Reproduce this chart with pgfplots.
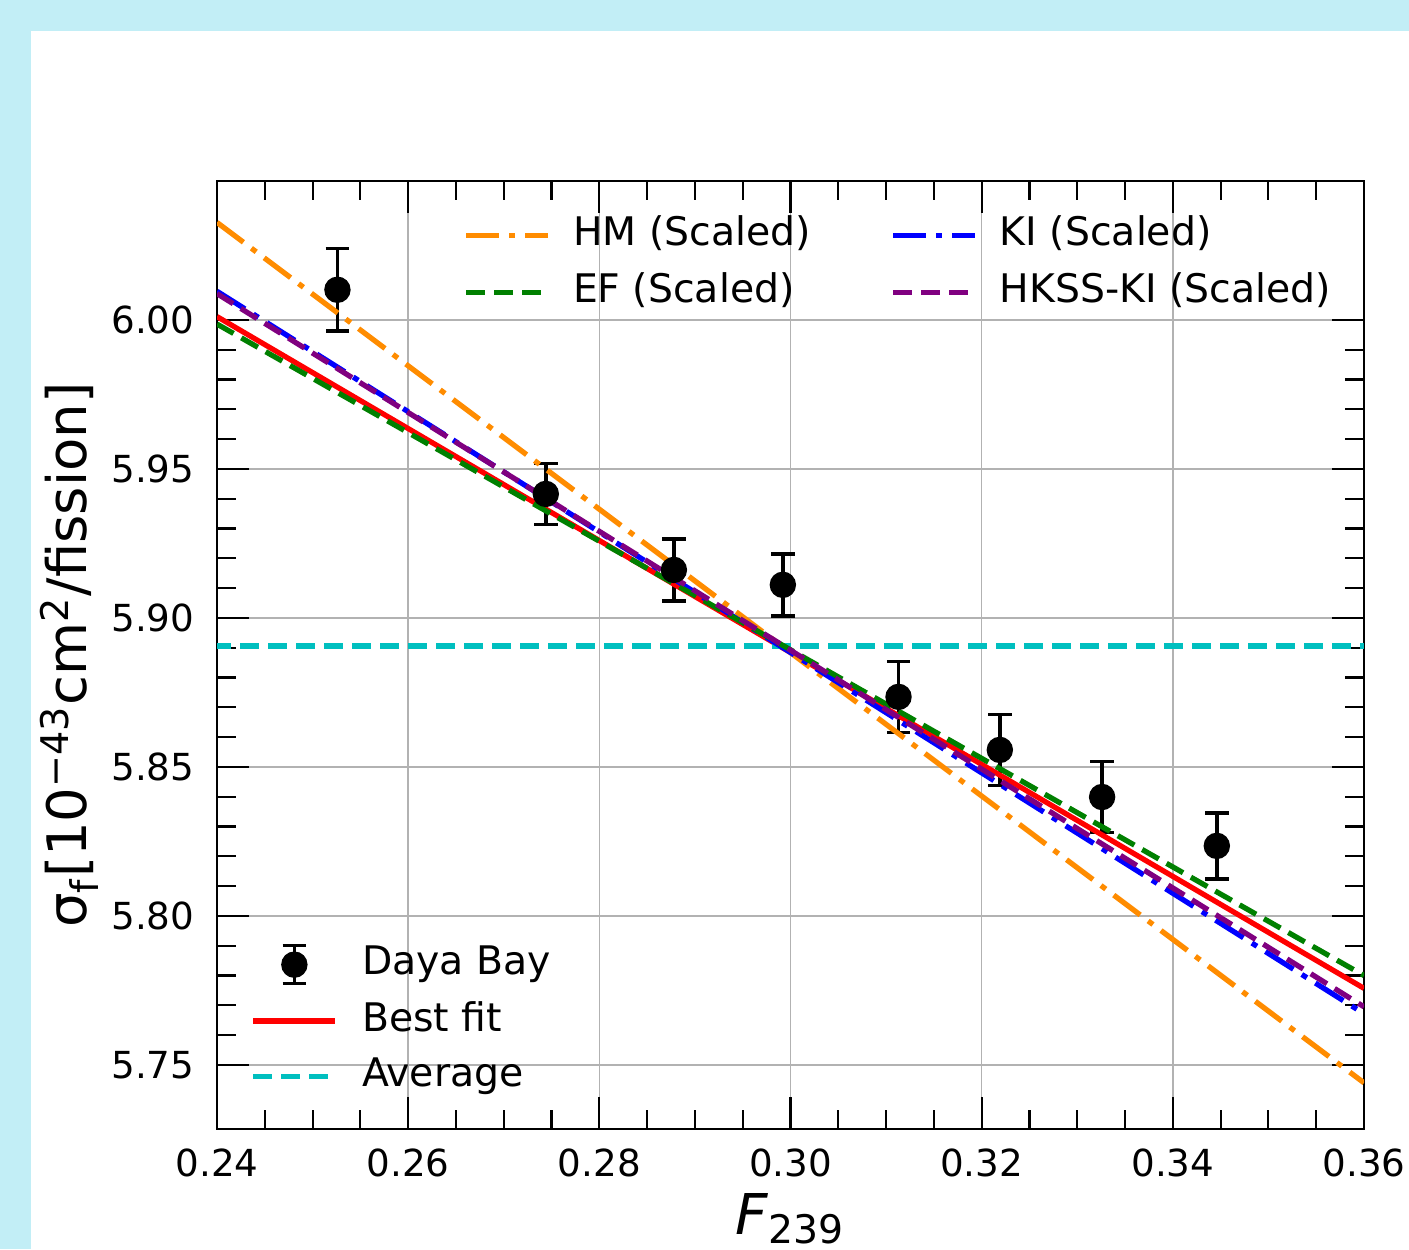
\documentclass[border=0pt]{standalone}
\usepackage{fontspec}
\setmainfont{DejaVu Sans}
\usepackage{pgfplots}
\pgfplotsset{compat=1.18}
\usepackage{pgfplotstable}

\definecolor{bgcyan}{HTML}{C2EEF6}
\definecolor{mplorange}{HTML}{FF8C00}
\definecolor{mplgreen}{HTML}{008000}
\definecolor{mplblue}{HTML}{0000FF}
\definecolor{mplpurple}{HTML}{800080}
\definecolor{mplred}{HTML}{FF0000}
\definecolor{mplcyan}{HTML}{00BFBF}

% Daya Bay points: F239, sigma_f, error
\pgfplotstableread{
x      y       err
0.2526 6.0101  0.0139
0.2744 5.9416  0.0102
0.2878 5.9161  0.0104
0.2992 5.9111  0.0104
0.3113 5.8735  0.0119
0.3219 5.8557  0.0119
0.3326 5.8399  0.0119
0.3446 5.8235  0.0111
}\dayabay

\tikzset{
  dashdotted mpl/.style={dash pattern=on 0.33cm off 0.1cm on 0.06cm off 0.1cm},
  dashed mpl/.style={dash pattern=on 0.19cm off 0.09cm},
}
\pgfplotsset{
  mypanel/.style={
    at={(2.17cm,1.20cm)}, anchor=south west,
    width=11.47cm, height=9.48cm, scale only axis,
  },
  my line legend/.style={
    legend image code/.code={\draw[##1] (0cm,0cm) -- (0.82cm,0cm);},
  },
}

\begin{document}
\begin{tikzpicture}
\fill[bgcyan] (0,0) rectangle (14.09cm,12.49cm);
\fill[white] (0.31cm,0) rectangle (14.09cm,12.18cm);
\useasboundingbox (0,0) rectangle (14.09cm,12.49cm);

\begin{axis}[
  mypanel,
  xmin=0.24, xmax=0.36, ymin=5.7285, ymax=6.0466,
  xtick={0.24,0.26,0.28,0.30,0.32,0.34,0.36},
  ytick={5.75,5.80,5.85,5.90,5.95,6.00},
  minor x tick num=3, minor y tick num=4,
  scaled ticks=false,
  tick align=inside,
  major tick length=0.32cm, minor tick length=0.19cm,
  every tick/.style={black, line width=0.6pt},
  axis line style={line width=0.8pt},
  grid=major,
  major grid style={color=black!30, line width=0.45pt},
  /pgf/number format/assume math mode=true,
  /pgf/number format/fixed, /pgf/number format/fixed zerofill,
  /pgf/number format/precision=2,
  tick label style={font=\fontsize{10.6}{12}\selectfont, inner sep=0pt},
  xticklabel style={yshift=-0.19cm},
  yticklabel style={xshift=-0.22cm},
  xlabel={\textit{F}\textsubscript{239}},
  xlabel style={font=\fontsize{16}{18}\selectfont, at={([yshift=-1.05cm]axis description cs:0.5,0)}, anchor=base, inner sep=0pt},
  ylabel={σ\textsubscript{f}[10\textsuperscript{−43}cm\textsuperscript{2}/fission]},
  ylabel style={font=\fontsize{15.5}{18}\selectfont, at={([xshift=-1.30cm]axis description cs:0,0.5)}, anchor=base, inner sep=0pt},
  my line legend,
  legend columns=2,
  legend cell align=left,
  legend style={draw=none, fill=none, inner sep=0pt, row sep=0.176cm,
    at={(0.2145,0.964)}, anchor=north west,
    font=\fontsize{11.2}{13}\selectfont,
    nodes={inner sep=0pt, text height=0.30cm, text depth=0.094cm},
    /tikz/every odd column/.append style={column sep=0.22cm},
    /tikz/every even column/.append style={column sep=0.80cm}},
]
\addplot[only marks, mark=*, mark size=0.125cm, black, forget plot,
  error bars/.cd, y dir=both, y explicit,
  error bar style={line width=1pt, black},
  error mark options={rotate=90, mark size=0.117cm, line width=1pt, black}]
  table[x=x, y=y, y error=err] {\dayabay};
\addplot[mplred, line width=1.5pt, forget plot] coordinates {(0.24,6.0011) (0.36,5.7757)};
\addplot[mplcyan, line width=1.5pt, dash pattern=on 0.19cm off 0.09cm, dash phase=0.05cm, forget plot] coordinates {(0.24,5.8906) (0.36,5.8906)};

\addplot[mplorange, line width=1.5pt, dashdotted mpl] coordinates {(0.24,6.0327) (0.36,5.7440)};
\addlegendentry{HM (Scaled)}
\addplot[mplblue, line width=1.5pt, dashdotted mpl] coordinates {(0.24,6.0096) (0.36,5.7672)};
\addlegendentry{KI (Scaled)}
\addplot[mplgreen, line width=1.5pt, dashed mpl] coordinates {(0.24,5.9986) (0.36,5.7800)};
\addlegendentry{EF (Scaled)}
\addplot[mplpurple, line width=1.5pt, dashed mpl] coordinates {(0.24,6.0088) (0.36,5.7695)};
\addlegendentry{HKSS-KI (Scaled)}
\end{axis}

\begin{axis}[
  mypanel, hide axis,
  xmin=0, xmax=1, ymin=0, ymax=1,
  my line legend,
  legend cell align=left,
  legend style={draw=none, fill=none, inner sep=0pt, row sep=0.16cm,
    at={(0.0288,0.196)}, anchor=north west,
    font=\fontsize{11.2}{13}\selectfont,
    nodes={inner sep=0pt, text height=0.30cm, text depth=0.094cm},
    /tikz/every odd column/.append style={column sep=0.24cm}},
]
\addlegendimage{legend image code/.code={
  \draw[black, line width=1pt] (0.41cm,-0.19cm) -- (0.41cm,0.19cm)
    (0.293cm,0.19cm) -- (0.527cm,0.19cm) (0.293cm,-0.19cm) -- (0.527cm,-0.19cm);
  \fill[black] (0.41cm,0cm) circle (0.125cm);}}
\addlegendentry{Daya Bay}
\addlegendimage{mplred, line width=1.5pt}
\addlegendentry{Best fit}
\addlegendimage{mplcyan, line width=1.5pt, dashed mpl}
\addlegendentry{Average}
\end{axis}
\end{tikzpicture}
\end{document}
